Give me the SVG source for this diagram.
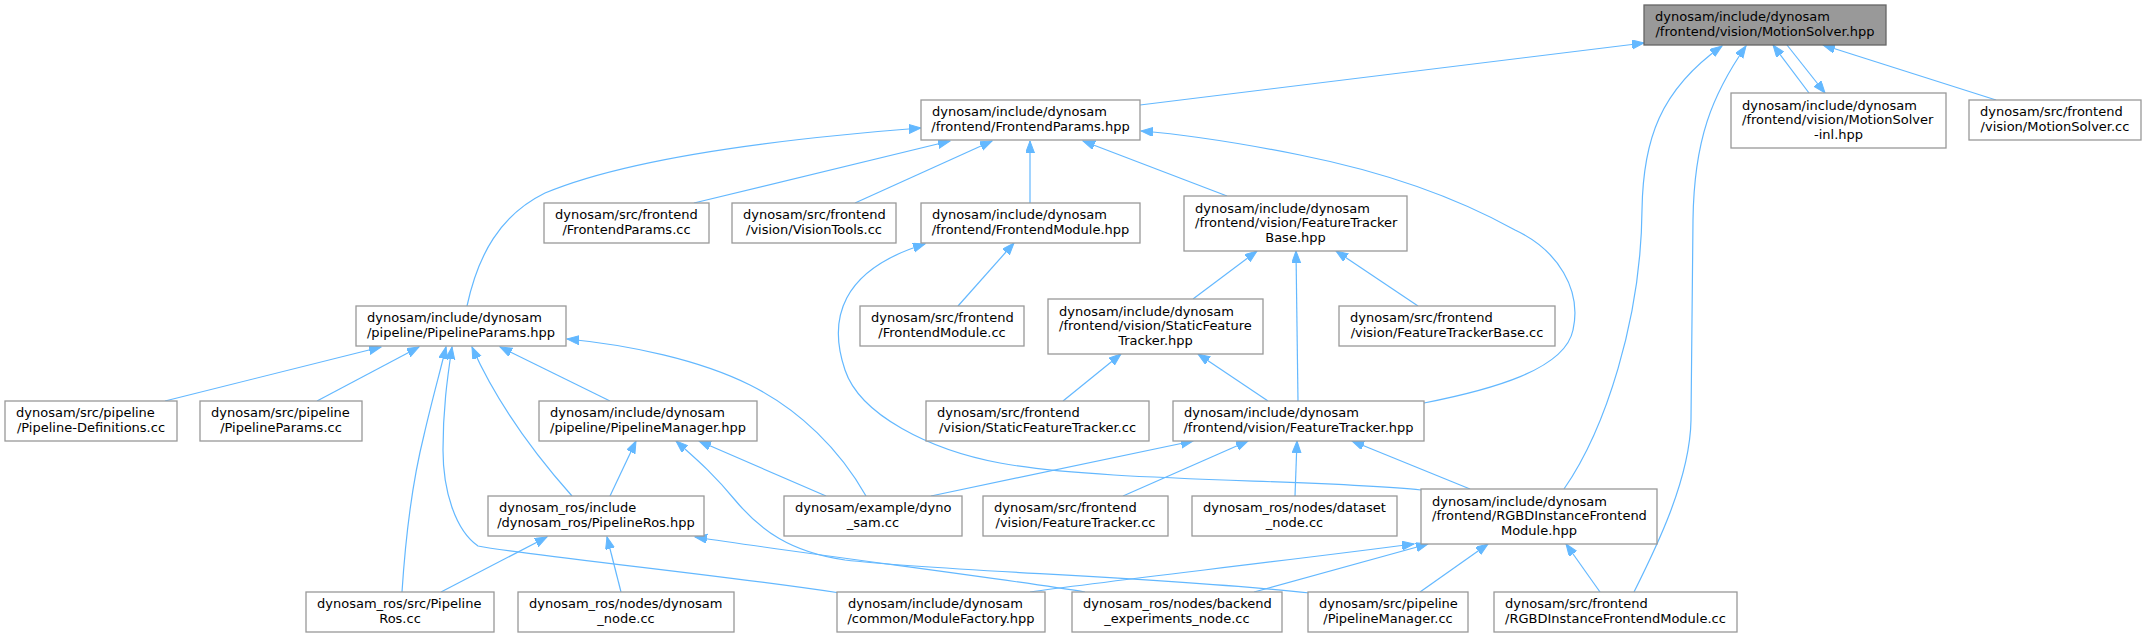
<svg xmlns="http://www.w3.org/2000/svg" width="2147" height="637" viewBox="0 0 2147 637">
<style>
.n rect{fill:#ffffff;stroke:#999999;stroke-width:1.3}
.root rect{fill:#999999;stroke:#666666;stroke-width:1.3}
text{font-family:"DejaVu Sans","Liberation Sans",sans-serif;font-size:13px;fill:#000000}
.c{text-anchor:middle}
#edges path{fill:none;stroke:#63b8ff;stroke-width:1.2;marker-end:url(#ah)}
</style>
<defs>
<marker id="ah" markerUnits="userSpaceOnUse" markerWidth="13" markerHeight="10" refX="12" refY="4.5" orient="auto">
<path d="M0,0 L12,4.5 L0,9 z" fill="#63b8ff" stroke="#63b8ff" stroke-width="1"/>
</marker>
</defs>
<rect x="0" y="0" width="2147" height="637" fill="#ffffff"/>
<g id="edges">
<path d="M1140,105 L1644,43"/>
<path d="M1809,93 L1773,45"/>
<path d="M1787,45 L1825,93"/>
<path d="M1996,100 L1823,45"/>
<path d="M1564,489 C1605,430 1641,320 1642,210 C1643,140 1660,90 1722,46"/>
<path d="M1634,592 C1655,550 1690,480 1691,420 L1693,220 C1694,140 1712,95 1746,46"/>
<path d="M467,306 C478,255 500,215 545,193 C600,170 700,145 921,128"/>
<path d="M694,203 L950,141"/>
<path d="M855,203 L992,141"/>
<path d="M1030,203 L1030,141"/>
<path d="M1227,196 L1083,141"/>
<path d="M1424,403 C1490,390 1565,370 1573,330 C1582,290 1558,250 1515,230 C1470,205 1400,175 1300,155 C1240,143 1190,135 1141,131"/>
<path d="M958,306 L1014,243"/>
<path d="M1421,490 C1320,479 1100,482 1000,463 C930,450 860,415 845,370 C828,320 840,270 925,244"/>
<path d="M1193,299 L1257,251"/>
<path d="M1298,401 L1296,251"/>
<path d="M1418,306 L1336,251"/>
<path d="M1063,401 L1121,354"/>
<path d="M1268,401 L1198,354"/>
<path d="M165,401 L381,347"/>
<path d="M317,401 L419,347"/>
<path d="M402,592 C406,530 414,475 424,435 C432,400 440,372 446,347"/>
<path d="M840,593 C700,572 530,556 478,546 C455,530 443,490 443,450 C443,410 447,380 452,347"/>
<path d="M610,401 L500,347"/>
<path d="M572,496 C540,460 500,410 472,347"/>
<path d="M866,496 C840,450 800,410 750,385 C700,360 630,345 567,339"/>
<path d="M610,496 L636,441"/>
<path d="M826,496 L699,441"/>
<path d="M1310,593 C1150,576 950,572 845,560 C790,552 760,530 735,500 C712,472 695,458 676,441"/>
<path d="M441,592 L547,537"/>
<path d="M621,592 L607,537"/>
<path d="M1085,592 C1000,578 820,556 695,537"/>
<path d="M931,496 L1193,441"/>
<path d="M1123,496 L1248,441"/>
<path d="M1295,496 L1297,441"/>
<path d="M1470,489 L1352,441"/>
<path d="M1030,592 C1100,582 1250,565 1414,544"/>
<path d="M1254,592 L1428,544"/>
<path d="M1420,592 L1488,544"/>
<path d="M1600,592 L1566,544"/>
</g>
<g id="n0" class="root"><rect x="1644" y="5" width="242" height="40"/><text x="1655" y="21">dynosam/include/dynosam</text><text class="c" x="1765" y="35.5">/frontend/vision/MotionSolver.hpp</text></g>
<g id="n1" class="n"><rect x="921" y="100" width="219" height="40"/><text x="932" y="116">dynosam/include/dynosam</text><text class="c" x="1030.5" y="130.5">/frontend/FrontendParams.hpp</text></g>
<g id="n2" class="n"><rect x="1731" y="93" width="215" height="55"/><text x="1742" y="109.5">dynosam/include/dynosam</text><text x="1742" y="124">/frontend/vision/MotionSolver</text><text class="c" x="1838.5" y="138.5">-inl.hpp</text></g>
<g id="n3" class="n"><rect x="1969" y="100" width="172" height="40"/><text x="1980" y="116">dynosam/src/frontend</text><text class="c" x="2055" y="130.5">/vision/MotionSolver.cc</text></g>
<g id="n4" class="n"><rect x="544" y="203" width="165" height="40"/><text x="555" y="219">dynosam/src/frontend</text><text class="c" x="626.5" y="233.5">/FrontendParams.cc</text></g>
<g id="n5" class="n"><rect x="732" y="203" width="164" height="40"/><text x="743" y="219">dynosam/src/frontend</text><text class="c" x="814" y="233.5">/vision/VisionTools.cc</text></g>
<g id="n6" class="n"><rect x="921" y="203" width="219" height="40"/><text x="932" y="219">dynosam/include/dynosam</text><text class="c" x="1030.5" y="233.5">/frontend/FrontendModule.hpp</text></g>
<g id="n7" class="n"><rect x="1184" y="196" width="223" height="55"/><text x="1195" y="212.5">dynosam/include/dynosam</text><text x="1195" y="227">/frontend/vision/FeatureTracker</text><text class="c" x="1295.5" y="241.5">Base.hpp</text></g>
<g id="n8" class="n"><rect x="356" y="306" width="210" height="40"/><text x="367" y="322">dynosam/include/dynosam</text><text class="c" x="461" y="336.5">/pipeline/PipelineParams.hpp</text></g>
<g id="n9" class="n"><rect x="860" y="306" width="164" height="40"/><text x="871" y="322">dynosam/src/frontend</text><text class="c" x="942" y="336.5">/FrontendModule.cc</text></g>
<g id="n10" class="n"><rect x="1048" y="299" width="215" height="55"/><text x="1059" y="315.5">dynosam/include/dynosam</text><text x="1059" y="330">/frontend/vision/StaticFeature</text><text class="c" x="1155.5" y="344.5">Tracker.hpp</text></g>
<g id="n11" class="n"><rect x="1339" y="306" width="216" height="40"/><text x="1350" y="322">dynosam/src/frontend</text><text class="c" x="1447" y="336.5">/vision/FeatureTrackerBase.cc</text></g>
<g id="n12" class="n"><rect x="5" y="401" width="172" height="40"/><text x="16" y="417">dynosam/src/pipeline</text><text class="c" x="91" y="431.5">/Pipeline-Definitions.cc</text></g>
<g id="n13" class="n"><rect x="200" y="401" width="162" height="40"/><text x="211" y="417">dynosam/src/pipeline</text><text class="c" x="281" y="431.5">/PipelineParams.cc</text></g>
<g id="n14" class="n"><rect x="539" y="401" width="218" height="40"/><text x="550" y="417">dynosam/include/dynosam</text><text class="c" x="648" y="431.5">/pipeline/PipelineManager.hpp</text></g>
<g id="n15" class="n"><rect x="926" y="401" width="223" height="40"/><text x="937" y="417">dynosam/src/frontend</text><text class="c" x="1037.5" y="431.5">/vision/StaticFeatureTracker.cc</text></g>
<g id="n16" class="n"><rect x="1173" y="401" width="251" height="40"/><text x="1184" y="417">dynosam/include/dynosam</text><text class="c" x="1298.5" y="431.5">/frontend/vision/FeatureTracker.hpp</text></g>
<g id="n17" class="n"><rect x="488" y="496" width="216" height="40"/><text x="499" y="512">dynosam_ros/include</text><text class="c" x="596" y="526.5">/dynosam_ros/PipelineRos.hpp</text></g>
<g id="n18" class="n"><rect x="784" y="496" width="178" height="40"/><text x="795" y="512">dynosam/example/dyno</text><text class="c" x="873" y="526.5">_sam.cc</text></g>
<g id="n19" class="n"><rect x="983" y="496" width="185" height="40"/><text x="994" y="512">dynosam/src/frontend</text><text class="c" x="1075.5" y="526.5">/vision/FeatureTracker.cc</text></g>
<g id="n20" class="n"><rect x="1192" y="496" width="205" height="40"/><text x="1203" y="512">dynosam_ros/nodes/dataset</text><text class="c" x="1294.5" y="526.5">_node.cc</text></g>
<g id="n21" class="n"><rect x="1421" y="489" width="236" height="55"/><text x="1432" y="505.5">dynosam/include/dynosam</text><text x="1432" y="520">/frontend/RGBDInstanceFrontend</text><text class="c" x="1539" y="534.5">Module.hpp</text></g>
<g id="n22" class="n"><rect x="306" y="592" width="188" height="40"/><text x="317" y="608">dynosam_ros/src/Pipeline</text><text class="c" x="400" y="622.5">Ros.cc</text></g>
<g id="n23" class="n"><rect x="518" y="592" width="216" height="40"/><text x="529" y="608">dynosam_ros/nodes/dynosam</text><text class="c" x="626" y="622.5">_node.cc</text></g>
<g id="n24" class="n"><rect x="837" y="592" width="208" height="40"/><text x="848" y="608">dynosam/include/dynosam</text><text class="c" x="941" y="622.5">/common/ModuleFactory.hpp</text></g>
<g id="n25" class="n"><rect x="1072" y="592" width="210" height="40"/><text x="1083" y="608">dynosam_ros/nodes/backend</text><text class="c" x="1177" y="622.5">_experiments_node.cc</text></g>
<g id="n26" class="n"><rect x="1308" y="592" width="160" height="40"/><text x="1319" y="608">dynosam/src/pipeline</text><text class="c" x="1388" y="622.5">/PipelineManager.cc</text></g>
<g id="n27" class="n"><rect x="1494" y="592" width="243" height="40"/><text x="1505" y="608">dynosam/src/frontend</text><text class="c" x="1615.5" y="622.5">/RGBDInstanceFrontendModule.cc</text></g>
</svg>
